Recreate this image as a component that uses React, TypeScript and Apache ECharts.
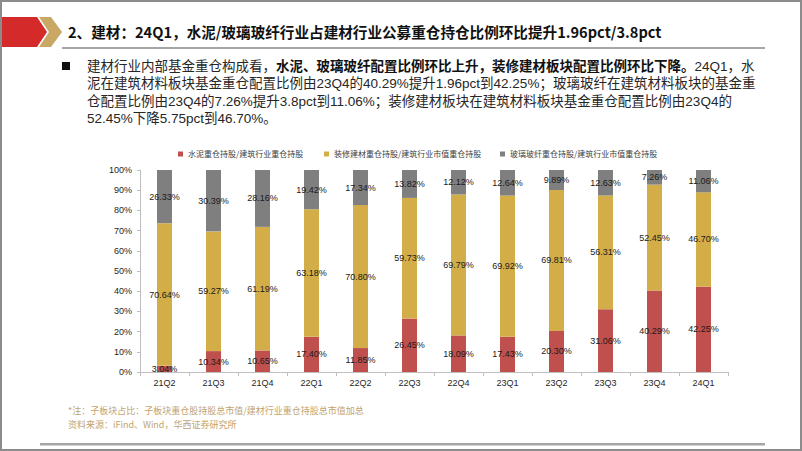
import React, { useEffect, useRef } from "react";
import * as echarts from "echarts";

const categories = ["21Q2", "21Q3", "21Q4", "22Q1", "22Q2", "22Q3", "22Q4", "23Q1", "23Q2", "23Q3", "23Q4", "24Q1"];
const cement = [3.04, 10.34, 10.65, 17.4, 11.85, 26.45, 18.09, 17.43, 20.3, 31.06, 40.29, 42.25];
const decoration = [70.64, 59.27, 61.19, 63.18, 70.8, 59.73, 69.79, 69.92, 69.81, 56.31, 52.45, 46.7];
const glass = [26.33, 30.39, 28.16, 19.42, 17.34, 13.82, 12.12, 12.64, 9.89, 12.63, 7.26, 11.06];
const seriesNames = [
  "水泥重仓持股/建筑行业重仓持股",
  "装修建材重仓持股/建筑行业市值重仓持股",
  "玻璃玻纤重仓持股/建筑行业市值重仓持股",
];
const titleText = "2、建材：24Q1，水泥/玻璃玻纤行业占建材行业公募重仓持仓比例环比提升1.96pct/3.8pct";
const paraLines = [
  "{n|建材行业内部基金重仓构成看，}{b|水泥、玻璃玻纤配置比例环比上升，装修建材板块配置比例环比下降。}{n|24Q1，水}",
  "{n|泥在建筑材料板块基金重仓配置比例由23Q4的40.29%提升1.96pct到42.25%；玻璃玻纤在建筑材料板块的基金重}",
  "{n|仓配置比例由23Q4的7.26%提升3.8pct到11.06%；装修建材板块在建筑材料板块基金重仓配置比例由23Q4的}",
  "{n|52.45%下降5.75pct到46.70%。}",
];
const noteLines = [
  "*注：子板块占比：子板块重仓股持股总市值/建材行业重仓持股总市值加总",
  "资料来源：iFind、Wind，华西证券研究所",
];

const CJK = '"Noto Sans CJK SC", "Microsoft YaHei", sans-serif';
const PARA = '"Liberation Sans", "Noto Sans CJK SC", sans-serif';
const ARIAL = '"Liberation Sans", Arial, sans-serif';
const COLORS = ["#C0504D", "#D3AE48", "#7F7F7F"];

export default function App() {
  const ref = useRef<HTMLDivElement>(null);
  useEffect(() => {
    if (!ref.current) return;
    const chart = echarts.init(ref.current, null, { renderer: "svg" });
    const label = {
      show: true,
      position: "inside" as const,
      color: "#1a1a1a",
      fontSize: 9,
      fontFamily: ARIAL,
      formatter: (p: any) => Number(p.value).toFixed(2) + "%",
    };
    const datasets = [cement, decoration, glass];
    const legendLefts = [173, 319, 495];
    const graphic: any[] = [
      { type: "rect", shape: { x: 1, y: 1, width: 800, height: 449 }, style: { fill: "none", stroke: "#8c8c8c", lineWidth: 2 } },
      { type: "polygon", shape: { points: [[2, 17], [37, 17], [47, 32], [37, 47], [2, 47]] }, style: { fill: "#D42A2A" } },
      { type: "polygon", shape: { points: [[39, 17], [51, 17], [62, 32], [51, 47], [39, 47], [49, 32]] }, style: { fill: "#C9A866" } },
      {
        type: "text", x: 68, y: 31,
        style: { text: titleText, fontSize: 14.6, fontWeight: "bold", fontFamily: CJK, fill: "#111", textVerticalAlign: "middle" },
      },
      { type: "rect", shape: { x: 62, y: 47, width: 703, height: 2 }, style: { fill: "#A6A6A6" } },
      { type: "rect", shape: { x: 62, y: 62, width: 8, height: 8 }, style: { fill: "#111" } },
      { type: "rect", shape: { x: 40, y: 443, width: 725, height: 2.5 }, style: { fill: "#A6A6A6" } },
      {
        type: "text", x: 87, y: 57.5,
        style: {
          text: paraLines.join("\n"),
          fontSize: 13.5, lineHeight: 17.4, fontFamily: PARA, fill: "#262626", textVerticalAlign: "top",
          rich: {
            n: { fontSize: 13.5, lineHeight: 17.4, fontFamily: PARA, fill: "#262626" },
            b: { fontSize: 13.5, lineHeight: 17.4, fontFamily: PARA, fontWeight: "bold", fill: "#111" },
          },
        },
      },
    ];
    noteLines.forEach((t, i) => {
      graphic.push({
        type: "text", x: 68, y: 410 + i * 14,
        style: { text: t, fontSize: 9, fontFamily: CJK, fill: "#C2A36C", textVerticalAlign: "middle" },
      });
    });
    chart.setOption({
      animation: false,
      backgroundColor: "#fff",
      graphic,
      legend: seriesNames.map((n, i) => ({
        data: [n],
        left: legendLefts[i],
        top: 145,
        icon: "rect",
        itemWidth: 5,
        itemHeight: 5,
        itemGap: 5,
        textStyle: { fontSize: 8, fontFamily: CJK, color: "#404040" },
        selectedMode: false,
      })),
      grid: { left: 140, right: 74, top: 170, bottom: 79 },
      xAxis: {
        type: "category",
        data: categories,
        axisLine: { lineStyle: { color: "#BFBFBF" } },
        axisTick: { show: true, length: 4, lineStyle: { color: "#BFBFBF" } },
        axisLabel: { fontSize: 9, fontFamily: ARIAL, color: "#262626", margin: 6 },
      },
      yAxis: {
        type: "value",
        min: 0,
        max: 100,
        interval: 10,
        axisLine: { show: true, lineStyle: { color: "#BFBFBF" } },
        axisTick: { show: true, length: 3, lineStyle: { color: "#BFBFBF" } },
        splitLine: { show: false },
        axisLabel: { fontSize: 9, fontFamily: ARIAL, color: "#262626", margin: 8, formatter: "{value}%" },
      },
      series: seriesNames.map((n, i) => ({
        name: n,
        type: "bar",
        stack: "total",
        barWidth: 15,
        data: datasets[i],
        itemStyle: { color: COLORS[i] },
        label,
      })),
    });
    return () => chart.dispose();
  }, []);
  return <div ref={ref} style={{ position: "fixed", left: 0, top: 0, width: 802, height: 451 }} />;
}
